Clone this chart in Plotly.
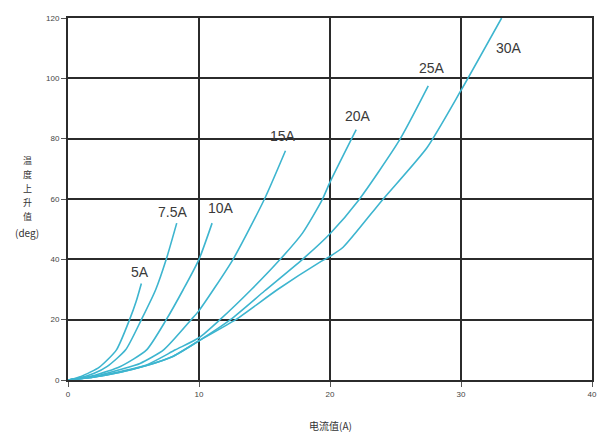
import plotly.graph_objects as go

# Temperature rise (deg) against current (A) for each rated fuse
rated = ["5A", "7.5A", "10A", "15A", "20A", "25A", "30A"]

x_5a = [0, 1, 2.4, 3.7, 4.7, 5.2, 5.6]
y_5a = [0, 1.2, 4.3, 10, 20, 26, 32]

x_7a5 = [0, 1, 2, 3, 4.4, 5.6, 6.7, 7.5, 8.3]
y_7a5 = [0, 0.8, 2.2, 4.5, 10, 20, 30, 40, 52]

x_10a = [0, 2, 4, 6, 7.5, 8.8, 10, 11]
y_10a = [0, 1.5, 4.5, 10, 20, 30, 40, 52]

x_15a = [0, 2, 4, 5.5, 7.3, 9.4, 10, 12.6, 15, 16.6]
y_15a = [0, 1.2, 3.5, 5.5, 10, 20, 23, 40, 60, 76]

x_20a = [0, 2, 4, 6, 8.2, 10, 11.6, 14, 16.2, 17.9, 19.4, 20, 22]
y_20a = [0, 1, 2.8, 5, 10, 14, 20, 30, 40, 48.7, 59.7, 65.6, 83]

x_25a = [0, 2, 4, 6, 8, 10, 12.4, 15, 17.9, 20, 22.2, 25.3, 27.5]
y_25a = [0, 1, 2.6, 4.8, 7.8, 13, 20, 29.5, 40, 48.5, 59.7, 79.5, 97.5]

x_30a = [0, 2, 4, 6, 8, 10, 12.8, 16, 19.2, 20, 21, 24, 27.4, 30, 33.1]
y_30a = [0, 1, 2.6, 4.8, 7.8, 13, 20, 30, 39, 41, 44, 59.7, 77, 96, 120]

# Label anchor points for each curve
label_x = [5.5, 8.0, 11.7, 16.4, 22.1, 27.8, 33.7]
label_y = [35.8, 55.7, 57.0, 81.0, 87.5, 103.4, 110.0]

x_ticks = [0, 10, 20, 30, 40]
y_ticks = [0, 20, 40, 60, 80, 100, 120]

# Vertical y-axis title, one glyph per row
y_title_parts = ["温", "度", "上", "升", "值", "(deg)"]
y_title_rows = [72.9, 68.2, 63.5, 58.8, 54.1, 49.0]
y_title_sizes = [9, 9, 9, 9, 9, 10]

curves = [
    (x_5a, y_5a), (x_7a5, y_7a5), (x_10a, y_10a), (x_15a, y_15a),
    (x_20a, y_20a), (x_25a, y_25a), (x_30a, y_30a),
]

line_color = "#3db5cf"
grid_color = "#2b2b2b"
cjk_font = "Noto Sans CJK SC, sans-serif"

fig = go.Figure()
for name, (xs, ys) in zip(rated, curves):
    fig.add_trace(go.Scatter(
        x=xs, y=ys, mode="lines", name=name,
        line=dict(color=line_color, width=1.6, shape="spline", smoothing=0.6),
        showlegend=False, hoverinfo="skip",
    ))

for name, lx, ly in zip(rated, label_x, label_y):
    fig.add_annotation(
        x=lx, y=ly, text=name, showarrow=False,
        font=dict(family="Liberation Sans, Arial, sans-serif", size=14, color="#3a3a3a"),
    )

for part, row, size in zip(y_title_parts, y_title_rows, y_title_sizes):
    fig.add_annotation(
        xref="paper", yref="y", x=-0.078, y=row,
        text=part, showarrow=False, xanchor="center", yanchor="middle",
        borderpad=0,
        font=dict(family=cjk_font, size=size, color="#333333"),
    )

fig.add_annotation(
    xref="paper", yref="paper", x=0.5, y=-0.1,
    text="电流值(A)", showarrow=False, xanchor="center", yanchor="top",
    font=dict(family=cjk_font, size=10, color="#333333"),
)

axis_common = dict(
    showgrid=True, gridcolor=grid_color, gridwidth=2,
    showline=True, linecolor=grid_color, linewidth=2, mirror=True,
    zeroline=False,
    ticks="outside", ticklen=5, tickwidth=1, tickcolor="#555555",
    tickfont=dict(family="Liberation Sans, Arial, sans-serif", size=8, color="#444444"),
)

fig.update_xaxes(range=[0, 40], tickvals=x_ticks, **axis_common)
fig.update_yaxes(range=[0, 120], tickvals=y_ticks, **axis_common)

fig.update_layout(
    width=610, height=435,
    margin=dict(l=68, r=18, t=18, b=55),
    paper_bgcolor="white", plot_bgcolor="white",
)

fig.write_html("out.html")
